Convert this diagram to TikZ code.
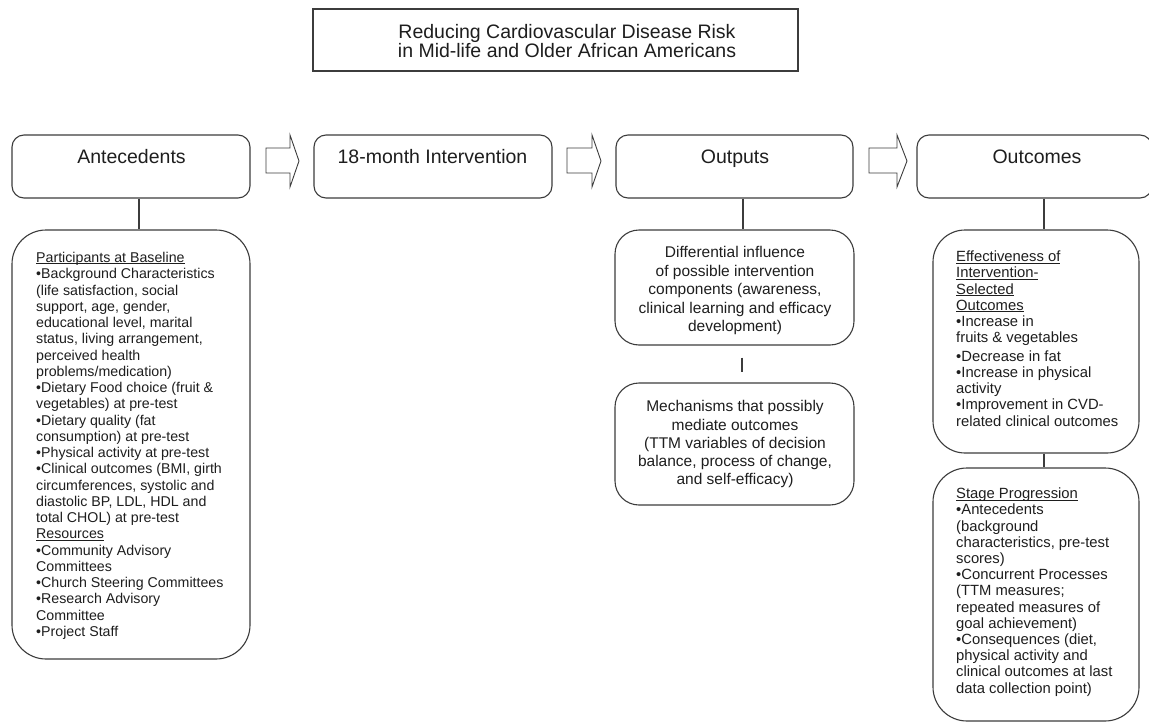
\documentclass[tikz,border=0pt]{standalone}
\usepackage{fontspec}
\setmainfont{Liberation Sans}
\newcommand\setfs[2]{\fontsize{#1}{#2}\selectfont}
\newcommand\myul[1]{\setbox0\hbox{#1}\rlap{\rule[-1.7pt]{\wd0}{0.75pt}}\box0}
\definecolor{linec}{HTML}{3C3C3C}
\definecolor{textc}{HTML}{1E1E1E}
\tikzset{
  box/.style={draw=linec, line width=1.1pt, rounded corners=12pt, inner sep=0pt, minimum height=63pt},
  bigbox/.style={draw=linec, line width=1.1pt, inner sep=0pt},
  conn/.style={draw=linec, line width=1.1pt},
  blk/.style={draw=linec, line width=0.9pt, line join=miter},
  headtxt/.style={anchor=base, inner sep=0pt, text=textc, font=\setfs{19.5}{22}},
  bodytxt/.style={inner sep=0pt, text=textc},
}
\begin{document}
\begin{tikzpicture}[x=1pt,y=-1pt]
\clip (0,0) rectangle (1149,723);
\fill[white] (0,0) rectangle (1149,723);

% title
\node[bigbox, minimum width=485pt, minimum height=62pt] (title) at (555.5,40) {};
\node[bodytxt, anchor=north, align=center, font=\setfs{19.5}{18.7}] (titletxt) at (567,24.2)
  {Reducing Cardiovascular Disease Risk\\in Mid-life and Older African Americans};

% top row boxes
\node[box, minimum width=238pt] (ante) at (131,166.5) {};
\node[box, minimum width=238pt] (interv) at (433,166.5) {};
\node[box, minimum width=237pt] (outputs) at (734.5,166.5) {};
\node[box, minimum width=235pt] (outcomes) at (1034.5,166.5) {};
\node[headtxt] (antetxt) at (131.5,163.3) {Antecedents};
\node[headtxt] (intervtxt) at (432.5,163.3) {18-month Intervention};
\node[headtxt] (outputstxt) at (735,163.3) {Outputs};
\node[headtxt] (outcomestxt) at (1037,163.3) {Outcomes};

% block arrows
\draw[blk] (266,148) -- (290,148) -- (290,135) -- (299,161) -- (290,187) -- (290,173) -- (266,173) -- cycle;
\draw[blk] (567,148) -- (592,148) -- (592,135) -- (601,161) -- (592,187) -- (592,173) -- (567,173) -- cycle;
\draw[blk] (869,148) -- (897,148) -- (897,135) -- (907,161) -- (897,187) -- (897,173) -- (869,173) -- cycle;

% lower boxes
\node[bigbox, rounded corners=34pt, minimum width=238pt, minimum height=429pt] (base) at (131,444.5) {};
\node[bigbox, rounded corners=24pt, minimum width=239pt, minimum height=115pt] (diff) at (734.5,287.5) {};
\node[bigbox, rounded corners=24pt, minimum width=239pt, minimum height=122pt] (mech) at (734.5,444) {};
\node[bigbox, rounded corners=32pt, minimum width=206pt, minimum height=223pt] (eff) at (1036,341.5) {};
\node[bigbox, rounded corners=34pt, minimum width=206pt, minimum height=253pt] (stage) at (1036,594.5) {};

% connectors
\draw[conn] ([xshift=8pt]ante.south) -- ([xshift=8pt]base.north);
\draw[conn] ([xshift=8.5pt]outputs.south) -- ([xshift=8.5pt]diff.north);
\draw[conn] ([xshift=7.5pt,yshift=-12pt]diff.south) -- ([xshift=7.5pt,yshift=10pt]mech.north);
\draw[conn] ([xshift=9.5pt]outcomes.south) -- ([xshift=8pt]eff.north);
\draw[conn] ([xshift=8pt]eff.south) -- ([xshift=8pt]stage.north);

% texts
\node[bodytxt, anchor=north west, align=left, font=\setfs{14.2}{16.26}] (basetxt) at (36,252) {%
\myul{Participants at Baseline}\\
•Background Characteristics\\
(life satisfaction, social\\
support, age, gender,\\
educational level, marital\\
status, living arrangement,\\
perceived health\\
problems/medication)\\
•Dietary Food choice (fruit \&\\
vegetables) at pre-test\\
•Dietary quality (fat\\
consumption) at pre-test\\
•Physical activity at pre-test\\
•Clinical outcomes (BMI, girth\\
circumferences, systolic and\\
diastolic BP, LDL, HDL and\\
total CHOL) at pre-test\\
\myul{Resources}\\
•Community Advisory\\
Committees\\
•Church Steering Committees\\
•Research Advisory\\
Committee\\
•Project Staff};

\node[bodytxt, anchor=north, align=center, font=\setfs{15.5}{18.5}] (difftxt) at (735,246.5) {%
Differential influence\\
of possible intervention\\
components (awareness,\\
clinical learning and efficacy\\
development)};

\node[bodytxt, anchor=north, align=center, font=\setfs{15.5}{18.2}] (mechtxt) at (735,400.5) {%
Mechanisms that possibly\\
mediate outcomes\\
(TTM variables of decision\\
balance, process of change,\\
and self-efficacy)};

\node[bodytxt, anchor=north west, align=left, font=\setfs{14.8}{16.2}] (efftxt) at (956,250.7) {%
\myul{Effectiveness of}\\
\myul{Intervention-}\\
\myul{Selected}\\
\myul{Outcomes}\\
•Increase in\\
fruits \& vegetables\\[2.5pt]
•Decrease in fat\\
•Increase in physical\\
activity\\
•Improvement in CVD-\\
related clinical outcomes};

\node[bodytxt, anchor=north west, align=left, font=\setfs{14.8}{16.2}] (stagetxt) at (956,487.7) {%
\myul{Stage Progression}\\
•Antecedents\\
(background\\
characteristics, pre-test\\
scores)\\
•Concurrent Processes\\
(TTM measures;\\
repeated measures of\\
goal achievement)\\
•Consequences (diet,\\
physical activity and\\
clinical outcomes at last\\
data collection point)};
\end{tikzpicture}
\end{document}
